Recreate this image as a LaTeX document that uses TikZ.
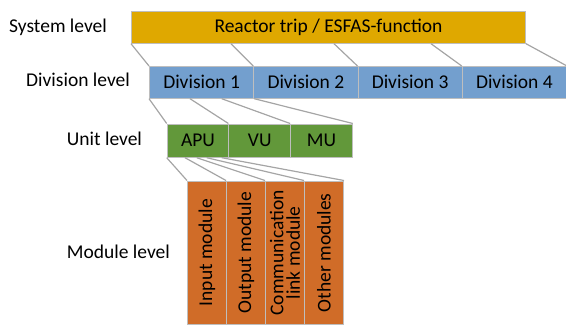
\documentclass[tikz,border=0pt]{standalone}
\usepackage{fontspec}
\setmainfont{Carlito}
\usetikzlibrary{calc}
\definecolor{sysc}{RGB}{223,168,0}
\definecolor{divc}{RGB}{115,159,206}
\definecolor{unitc}{RGB}{98,152,58}
\definecolor{modc}{RGB}{208,108,40}
\definecolor{boxline}{RGB}{190,190,190}
\definecolor{connc}{RGB}{165,165,165}
\begin{document}
\begin{tikzpicture}[x=1pt,y=-1pt,
  box/.style={draw=boxline, line width=1pt, inner sep=0pt, anchor=north west, font=\fontsize{19.5}{16.5}\selectfont},
  modtext/.style={rotate=90, inner sep=0pt, align=center, font=\fontsize{19.5}{16.5}\selectfont},
  conn/.style={draw=connc, line width=1.2pt},
  lbl/.style={anchor=west, inner sep=0pt, font=\fontsize{19.5}{23}\selectfont}]
\useasboundingbox (0,0) rectangle (566,325);
% system box
\node[box, fill=sysc, minimum width=394pt, minimum height=32pt] (sys) at (131,10.7) {Reactor trip / ESFAS-function};
% division boxes
\foreach \i/\t in {0/1,1/2,2/3,3/4}{
  \node[box, fill=divc, minimum width=104.25pt, minimum height=31.7pt] (div\t) at ({149+104.25*\i},66) {Division \t};
}
% unit boxes
\node[box, fill=unitc, minimum width=61.7pt, minimum height=33.2pt] (apu) at (166.7,123.5) {APU};
\node[box, fill=unitc, minimum width=61.7pt, minimum height=33.2pt] (vu) at (228.4,123.5) {VU};
\node[box, fill=unitc, minimum width=61.7pt, minimum height=33.2pt] (mu) at (290.1,123.5) {MU};
% module boxes
\foreach \i in {1,2,3,4}{
  \node[box, fill=modc, minimum width=39pt, minimum height=143.5pt] (m\i) at ({187+39*(\i-1)},180.5) {};
}
\node[modtext] (m1t) at (m1.center) {Input module};
\node[modtext] (m2t) at (m2.center) {Output module};
\node[modtext] (m3t) at (m3.center) {Communication\\link module};
\node[modtext] (m4t) at (m4.center) {Other modules};
% connectors system -> division
\draw[conn] (sys.south west) -- (div1.north west);
\draw[conn] ($(sys.south west)+(100,0)$) -- (div2.north west);
\draw[conn] ($(sys.south west)+(203,0)$) -- (div3.north west);
\draw[conn] ($(sys.south west)+(300,0)$) -- (div4.north west);
\draw[conn] (sys.south east) -- (div4.north east);
% connectors division 1 -> units
\draw[conn] (div1.south west) -- (apu.north west);
\draw[conn] ($(div1.south west)+(41,0)$) -- (vu.north west);
\draw[conn] ($(div1.south west)+(72.7,0)$) -- (mu.north west);
\draw[conn] (div1.south east) -- (mu.north east);
% connectors APU -> modules
\draw[conn] (apu.south west) -- (m1.north west);
\draw[conn] ($(apu.south west)+(18.3,0)$) -- (m2.north west);
\draw[conn] ($(apu.south west)+(30,0)$) -- (m3.north west);
\draw[conn] ($(apu.south west)+(40,0)$) -- (m4.north west);
\draw[conn] ($(apu.south west)+(55,0)$) -- (m4.north east);
% level labels
\node[lbl] (lsys) at (9,27) {System level};
\node[lbl] (ldiv) at (26,80) {Division level};
\node[lbl] (lunit) at (66.7,139) {Unit level};
\node[lbl] (lmod) at (66.7,251.7) {Module level};
\end{tikzpicture}
\end{document}
